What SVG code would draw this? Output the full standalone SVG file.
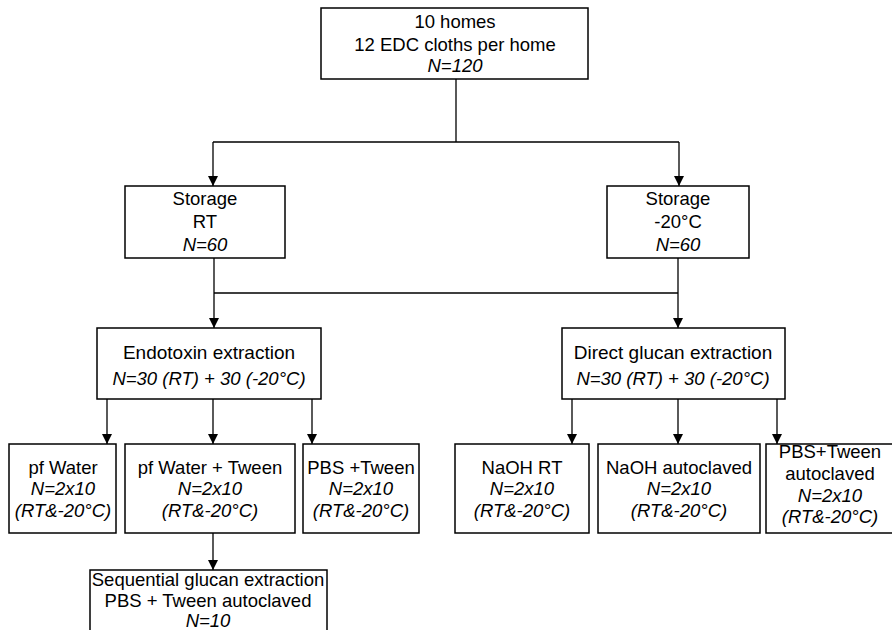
<svg xmlns="http://www.w3.org/2000/svg" width="892" height="630" viewBox="0 0 892 630">
<defs>
<marker id="arr" markerUnits="userSpaceOnUse" markerWidth="10" markerHeight="12" refX="10" refY="5" orient="auto">
<path d="M0,0 L10,5 L0,10 z" fill="#000"/>
</marker>
<style>
.box{fill:#fff;stroke:#000;stroke-width:1.5}
.ln{fill:none;stroke:#000;stroke-width:1.3}
.ar{fill:none;stroke:#000;stroke-width:1.3;marker-end:url(#arr)}
text{font-family:"Liberation Sans",Arial,sans-serif;font-size:18.5px;fill:#000;text-anchor:middle}
.it{font-style:italic}
</style>
</defs>
<rect width="892" height="630" fill="#fff"/>
<g id="connectors">
<path class="ln" d="M456,79 V142 M213,142 H679 M214,293 H678"/>
<path class="ar" d="M213,142 V186"/>
<path class="ar" d="M679,142 V186"/>
<path class="ar" d="M214,258 V328"/>
<path class="ar" d="M678,258 V328"/>
<path class="ar" d="M107,399 V444"/>
<path class="ar" d="M213,399 V444"/>
<path class="ar" d="M312,399 V444"/>
<path class="ar" d="M572,399 V444"/>
<path class="ar" d="M678,399 V444"/>
<path class="ar" d="M777,399 V444"/>
<path class="ar" d="M213,533 V570"/>
</g>
<g id="top">
<rect class="box" x="321" y="8" width="267" height="71"/>
<text x="455" y="28">10 homes</text>
<text x="455" y="51">12 EDC cloths per home</text>
<text x="455" y="72" class="it">N=120</text>
</g>
<g id="storageRT">
<rect class="box" x="125" y="186" width="160" height="72"/>
<text x="205" y="205">Storage</text>
<text x="205" y="228">RT</text>
<text x="205" y="251" class="it">N=60</text>
</g>
<g id="storage20">
<rect class="box" x="607" y="186" width="142" height="72"/>
<text x="678" y="205">Storage</text>
<text x="678" y="228">-20°C</text>
<text x="678" y="251" class="it">N=60</text>
</g>
<g id="endotoxin">
<rect class="box" x="97" y="328" width="224" height="71"/>
<text x="209" y="359" style="font-size:19px">Endotoxin extraction</text>
<text x="209" y="385" class="it">N=30 (RT) + 30 (-20°C)</text>
</g>
<g id="direct">
<rect class="box" x="562" y="328" width="223" height="71"/>
<text x="673" y="359" style="font-size:19px">Direct glucan extraction</text>
<text x="673" y="385" class="it">N=30 (RT) + 30 (-20°C)</text>
</g>
<g id="pfwater">
<rect class="box" x="9" y="444" width="107" height="89"/>
<text x="63" y="474">pf Water</text>
<text x="63" y="495" class="it">N=2x10</text>
<text x="63" y="517" class="it">(RT&amp;-20°C)</text>
</g>
<g id="pfwatertween">
<rect class="box" x="125" y="444" width="170" height="89"/>
<text x="210" y="474">pf Water + Tween</text>
<text x="210" y="495" class="it">N=2x10</text>
<text x="210" y="517" class="it">(RT&amp;-20°C)</text>
</g>
<g id="pbstween">
<rect class="box" x="303" y="444" width="116" height="89"/>
<text x="361" y="474">PBS +Tween</text>
<text x="361" y="495" class="it">N=2x10</text>
<text x="361" y="517" class="it">(RT&amp;-20°C)</text>
</g>
<g id="naohrt">
<rect class="box" x="455" y="444" width="134" height="89"/>
<text x="522" y="474">NaOH RT</text>
<text x="522" y="495" class="it">N=2x10</text>
<text x="522" y="517" class="it">(RT&amp;-20°C)</text>
</g>
<g id="naohauto">
<rect class="box" x="598" y="444" width="162" height="89"/>
<text x="679" y="474">NaOH autoclaved</text>
<text x="679" y="495" class="it">N=2x10</text>
<text x="679" y="517" class="it">(RT&amp;-20°C)</text>
</g>
<g id="pbsauto">
<rect class="box" x="766" y="444" width="140" height="89"/>
<text x="830" y="458">PBS+Tween</text>
<text x="830" y="480">autoclaved</text>
<text x="830" y="502" class="it">N=2x10</text>
<text x="830" y="523" class="it">(RT&amp;-20°C)</text>
</g>
<g id="sequential">
<rect class="box" x="90" y="570" width="237" height="70"/>
<text x="208" y="586">Sequential glucan extraction</text>
<text x="208" y="607">PBS + Tween autoclaved</text>
<text x="208" y="627" class="it">N=10</text>
</g>
</svg>
